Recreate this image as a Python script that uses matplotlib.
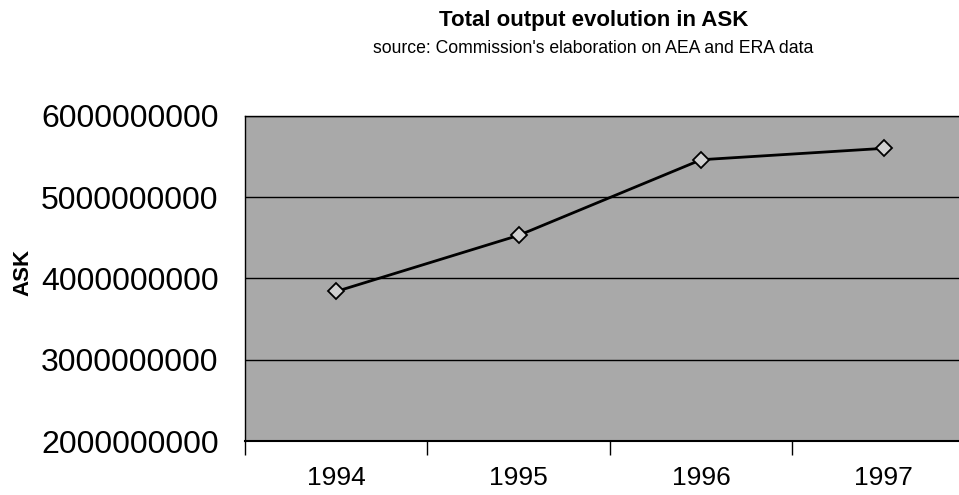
import matplotlib
matplotlib.use("Agg")
import matplotlib.pyplot as plt

# data
years = ["1994", "1995", "1996", "1997"]
ask = [3840000000, 4530000000, 5460000000, 5600000000]
y_ticks = [2000000000, 3000000000, 4000000000, 5000000000, 6000000000]

plt.rcParams['font.family'] = ['Liberation Sans', 'DejaVu Sans']

fig = plt.figure(figsize=(9.59, 4.95), dpi=100)
ax = fig.add_axes([0.2555, 0.109, 0.761, 0.657])
ax.set_facecolor('#a9a9a9')

x = list(range(len(years)))
ax.plot(x, ask, color='black', lw=2, marker='D', markersize=8.5,
        markerfacecolor='#d0d0d0', markeredgecolor='black', markeredgewidth=1.3, zorder=3)

ax.set_xlim(-0.5, len(years) - 0.5)
ax.set_ylim(y_ticks[0], y_ticks[-1])

# ticks between categories, labels in the middle
ax.set_xticks([i - 0.5 for i in x])
ax.set_xticklabels([])
ax.set_xticks(x, minor=True)
ax.set_xticklabels(years, minor=True, fontsize=19)
ax.tick_params(axis='x', which='major', length=10, width=1, color='black')
ax.tick_params(axis='x', which='minor', length=0, pad=18)

ax.set_yticks(y_ticks)
ax.set_yticklabels([str(v) for v in y_ticks], fontsize=23)
ax.tick_params(axis='y', length=0, pad=19)
ax.yaxis.grid(True, color='black', lw=1)
ax.set_axisbelow(False)

for s in ax.spines.values():
    s.set_color('black')
    s.set_linewidth(1)
ax.spines['bottom'].set_linewidth(1.5)

fig.text(0.024, 0.45, "ASK", rotation=90, fontsize=16, fontweight='bold',
         ha='center', va='center')
fig.text(0.619, 0.958, "Total output evolution in ASK", fontsize=16,
         fontweight='bold', ha='center', va='center')
fig.text(0.619, 0.903, "source: Commission's elaboration on AEA and ERA data",
         fontsize=12.7, ha='center', va='center')

fig.savefig("out.png", dpi=100)
